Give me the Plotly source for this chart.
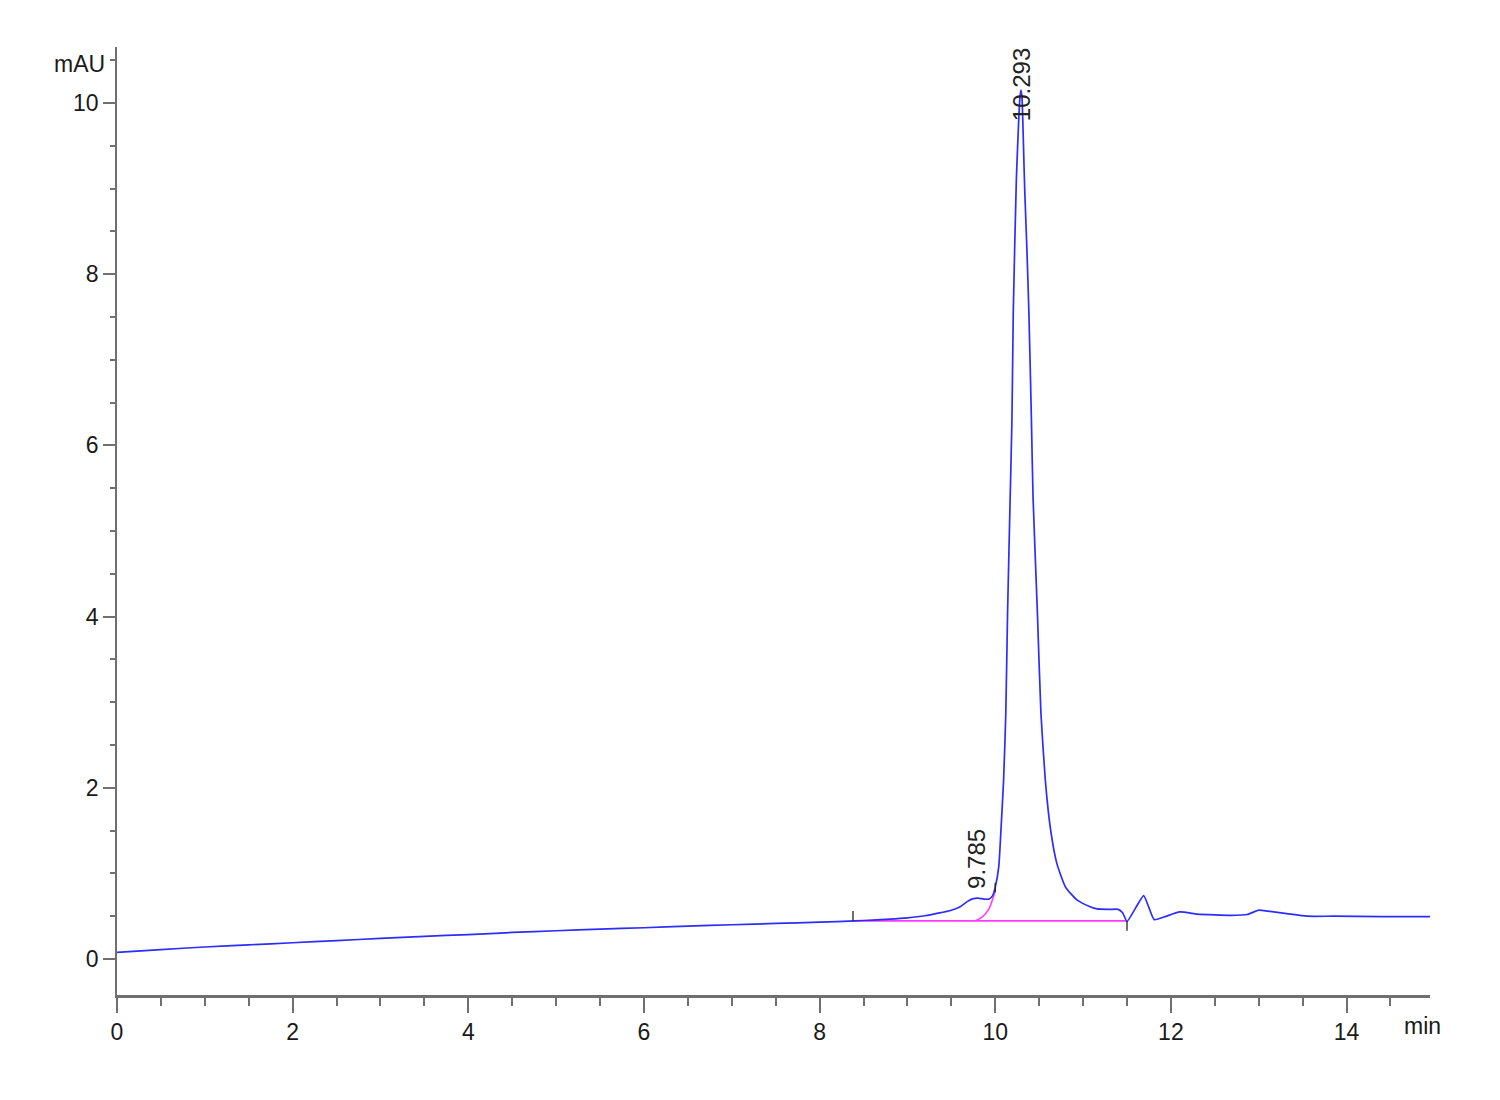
import plotly.graph_objects as go

# Chromatogram signal (min, mAU)
time_min = [0, 0.5, 1.0, 1.5, 2.0, 2.5, 3.0, 3.5, 4.0, 4.5, 5.0, 5.5, 6.0, 6.5, 7.0, 7.5,
            8.0, 8.4, 8.6, 8.8, 9.0, 9.2, 9.35, 9.5, 9.6, 9.68, 9.75, 9.8, 9.87, 9.93,
            9.97, 10.0, 10.04, 10.065, 10.095, 10.12, 10.14, 10.17, 10.19, 10.205, 10.24,
            10.265, 10.28, 10.293, 10.305, 10.32, 10.335, 10.36, 10.383, 10.41, 10.43,
            10.48, 10.52, 10.57, 10.63, 10.70, 10.80, 10.93, 11.08, 11.16, 11.3, 11.4,
            11.45, 11.5, 11.6, 11.69, 11.75, 11.81, 11.92, 12.1, 12.3, 12.5, 12.68, 12.87,
            13.0, 13.1, 13.32, 13.55, 13.85, 14.4, 14.95]
signal_mau = [0.078, 0.11, 0.14, 0.165, 0.19, 0.215, 0.24, 0.265, 0.285, 0.31, 0.33, 0.35,
              0.365, 0.385, 0.40, 0.415, 0.43, 0.445, 0.455, 0.465, 0.48, 0.505, 0.535,
              0.57, 0.61, 0.67, 0.705, 0.71, 0.70, 0.70, 0.74, 0.84, 1.08, 1.51, 2.09,
              2.87, 4.04, 5.4, 6.3, 7.55, 9.1, 9.75, 10.05, 10.15, 10.05, 9.55, 9.0, 8.3,
              7.55, 6.38, 5.4, 4.04, 2.87, 2.09, 1.51, 1.12, 0.84, 0.69, 0.61, 0.585,
              0.58, 0.58, 0.54, 0.44, 0.60, 0.74, 0.60, 0.46, 0.49, 0.55, 0.525, 0.515,
              0.51, 0.52, 0.57, 0.56, 0.53, 0.50, 0.50, 0.495, 0.495]

# Integration baseline (magenta)
base_time = [8.38, 11.5]
base_mau = [0.445, 0.445]
skim_time = [9.77, 9.85, 9.92, 9.98, 10.0]
skim_mau = [0.445, 0.49, 0.57, 0.73, 0.80]

# Integration event ticks (black)
event_time = [8.38, 10.0, 11.5]
event_lo = [0.445, 0.78, 0.33]
event_hi = [0.56, 0.89, 0.445]

# Peak labels
peak_rt = [9.785, 10.293]
peak_label_y = [0.80, 9.77]
peak_labels = ["9.785", "10.293"]

x_ticks = [0, 2, 4, 6, 8, 10, 12, 14]
y_ticks = [0, 2, 4, 6, 8, 10]

fig = go.Figure()
fig.add_trace(go.Scatter(x=base_time, y=base_mau, mode="lines",
                         line=dict(color="rgb(255,60,255)", width=1.6), hoverinfo="skip"))
fig.add_trace(go.Scatter(x=skim_time, y=skim_mau, mode="lines",
                         line=dict(color="rgb(255,60,255)", width=1.6, shape="spline"),
                         hoverinfo="skip"))
fig.add_trace(go.Scatter(x=time_min, y=signal_mau, mode="lines",
                         line=dict(color="rgb(45,45,255)", width=1.7, shape="spline",
                                   smoothing=0.5)))
ex, ey = [], []
for t, lo, hi in zip(event_time, event_lo, event_hi):
    ex += [t, t, None]
    ey += [lo, hi, None]
fig.add_trace(go.Scatter(x=ex, y=ey, mode="lines",
                         line=dict(color="#222222", width=1.3), hoverinfo="skip"))

for rt, yy, lab in zip(peak_rt, peak_label_y, peak_labels):
    fig.add_annotation(x=rt, y=yy, text=lab, textangle=-90, showarrow=False,
                       xanchor="center", yanchor="bottom",
                       font=dict(family="Liberation Sans, Arial, sans-serif", size=24, color="#222222"))

tick_font = dict(family="Liberation Sans, Arial, sans-serif", size=23, color="#1a1a1a")

fig.add_annotation(xref="paper", yref="paper", x=-0.0282, y=0.982, text="mAU",
                   showarrow=False, xanchor="center", yanchor="middle", font=tick_font)
fig.add_annotation(xref="paper", yref="paper", x=0.979, y=-0.0327, text="min",
                   showarrow=False, xanchor="left", yanchor="middle", font=tick_font)

fig.update_layout(
    width=1500, height=1100,
    margin=dict(l=109, r=78, t=39, b=113),
    paper_bgcolor="white", plot_bgcolor="white",
    showlegend=False,
    xaxis=dict(range=[0, 14.95], tickvals=x_ticks, ticks="outside", ticklen=15,
               tickcolor="#707070", tickwidth=1.5, showgrid=False, zeroline=False,
               showline=True, linecolor="#707070", linewidth=2.5,
               minor=dict(dtick=0.5, tick0=0, ticks="outside", ticklen=8,
                          tickcolor="#707070", tickwidth=1.5, showgrid=False),
               tickfont=tick_font),
    yaxis=dict(range=[-0.4206, 10.654], tickvals=y_ticks, ticks="outside", ticklen=12,
               tickcolor="#707070", tickwidth=1.5, showgrid=False, zeroline=False,
               showline=True, linecolor="#707070", linewidth=1.5,
               minor=dict(dtick=0.5, tick0=0, ticks="outside", ticklen=5,
                          tickcolor="#707070", tickwidth=1.5, showgrid=False),
               tickfont=tick_font),
)

fig.write_html("out.html")
